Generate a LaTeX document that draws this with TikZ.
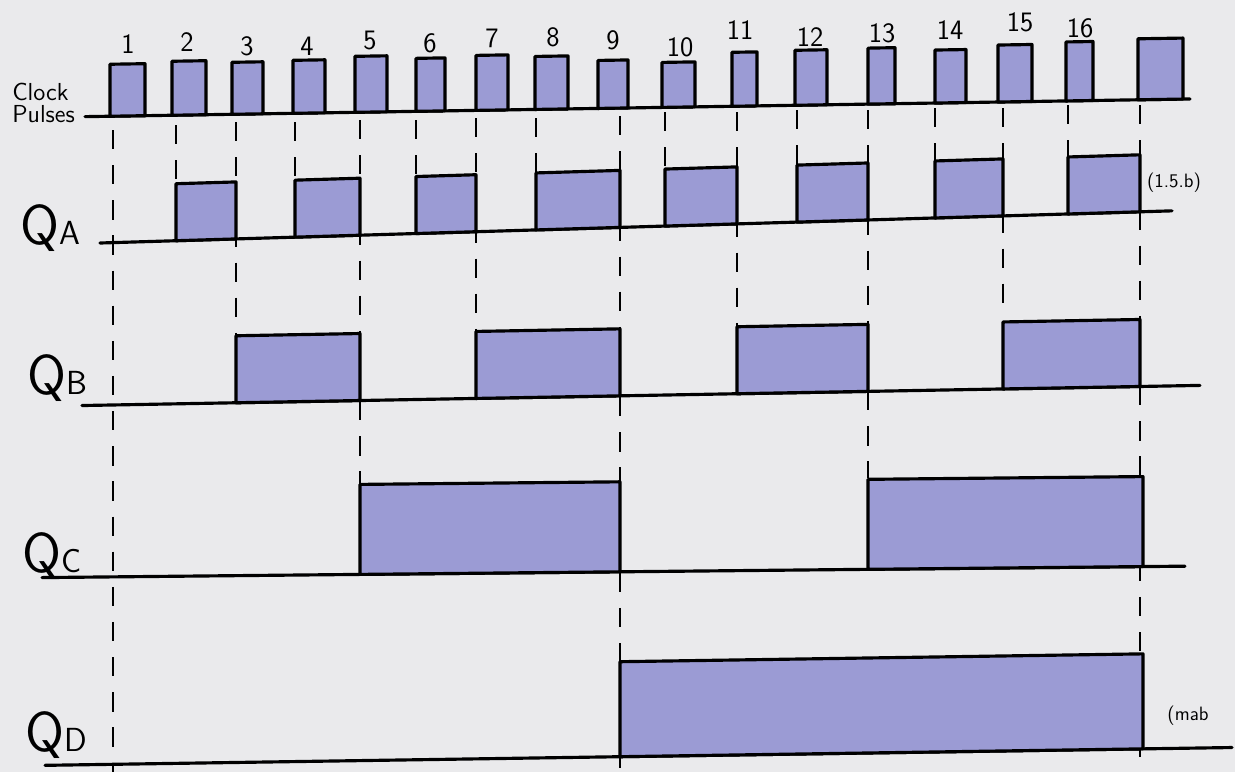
\documentclass[tikz,border=0pt]{standalone}
\usepackage{tikz}
\definecolor{paper}{RGB}{234,234,236}
\definecolor{ink}{RGB}{155,155,212}
\newcommand{\qlabel}[1]{Q{\fontsize{19}{19}\selectfont #1}}

\begin{document}
\begin{tikzpicture}[x=0.02cm, y=-0.02cm,
    wave/.style = {draw=black, line width=1.8pt, line cap=round},
    highbox/.style = {draw=black, fill=ink, line width=1.8pt, line join=round},
    guide/.style = {draw=black, line width=1.1pt, dash pattern=on 11pt off 9pt},
    siglabel/.style = {font=\sffamily\fontsize{32}{34}\selectfont, inner sep=0pt, anchor=west},
    clklabel/.style = {font=\sffamily\fontsize{14}{13}\selectfont, align=left, inner sep=0pt, anchor=west},
    numlabel/.style = {font=\sffamily\fontsize{16}{18}\selectfont, inner sep=0pt},
    notelabel/.style = {font=\sffamily\fontsize{11}{12}\selectfont, inner sep=0pt}
]

% paper sheet
\fill[paper] (0,0) rectangle (1235,772);
\useasboundingbox (0,0) rectangle (1235,772);

% Dashed guides down from the clock edges
\draw[guide] (113,130) -- (113,772);
\draw[guide] (176,125) -- (176,189);
\draw[guide] (236,122) -- (236,340);
\draw[guide] (295,122) -- (295,182);
\draw[guide] (360,120) -- (360,486);
\draw[guide] (416,120) -- (416,180);
\draw[guide] (476,118) -- (476,335);
\draw[guide] (536,118) -- (536,176);
\draw[guide] (620,116) -- (620,772);
\draw[guide] (665,112) -- (665,172);
\draw[guide] (737,112) -- (737,326);
\draw[guide] (797,110) -- (797,168);
\draw[guide] (868,110) -- (868,478);
\draw[guide] (935,108) -- (935,164);
\draw[guide] (1003,108) -- (1003,318);
\draw[guide] (1068,105) -- (1068,158);
\draw[guide] (1140,105) -- (1140,772);

% Clock pulses
\begin{scope}[yslant=0.016]
\draw[wave] (85,118) -- (1190,118);
\foreach \xa/\xb/\top in {110/145/66, 172/206/64, 232/263/66, 293/325/65, 355/387/62, 416/445/65,
    476/508/63, 535/568/65, 598/628/70, 662/695/73, 732/757/64, 795/827/63, 868/895/62,
    935/966/65, 998/1032/61, 1066/1093/59, 1138/1183/57}
  \draw[highbox] (\xa,118) rectangle (\xb,\top);
\end{scope}

\foreach \n/\x/\y in {1/128/44, 2/187/42, 3/247/46, 4/307/46, 5/370/40, 6/430/43, 7/492/38,
    8/553/37, 9/613/40, 10/680/47, 11/740/30, 12/810/37, 13/882/33, 14/950/30, 15/1020/22, 16/1080/28}
  \node[numlabel] (num\n) at (\x,\y) {\n};

% Q_A
\begin{scope}[yslant=0.03]
\draw[wave] (100,246) -- (1172,246);
\foreach \xa/\xb in {176/236, 295/360, 416/476, 536/620, 665/737, 797/868, 935/1003, 1068/1140}
  \draw[highbox] (\xa,246) rectangle (\xb,189);
\end{scope}

% Q_B
\begin{scope}[yslant=0.018]
\draw[wave] (82,407) -- (1200,407);
\foreach \xa/\xb in {236/360, 476/620, 737/868, 1003/1140}
  \draw[highbox] (\xa,407) rectangle (\xb,340);
\end{scope}

% Q_C
\begin{scope}[yslant=0.01]
\draw[wave] (42,578) -- (1185,578);
\foreach \xa/\xb in {360/620, 868/1143}
  \draw[highbox] (\xa,578) rectangle (\xb,488);
\end{scope}

% Q_D
\begin{scope}[yslant=0.015]
\draw[wave] (45,766) -- (1232,766);
\draw[highbox] (620,766) rectangle (1143,671);
\end{scope}

% Signal names
\node[clklabel] (clk) at (12,103) {Clock\\Pulses};
\node[siglabel] (qa) at (20,228) {\qlabel{A}};
\node[siglabel] (qb) at (27,378) {\qlabel{B}};
\node[siglabel] (qc) at (22,556) {\qlabel{C}};
\node[siglabel] (qd) at (25,735) {\qlabel{D}};

% margin notes
\node[notelabel] (note1) at (1174,183) {(1.5.b)};
\node[notelabel] (note2) at (1188,716) {(mab};

\end{tikzpicture}
\end{document}
